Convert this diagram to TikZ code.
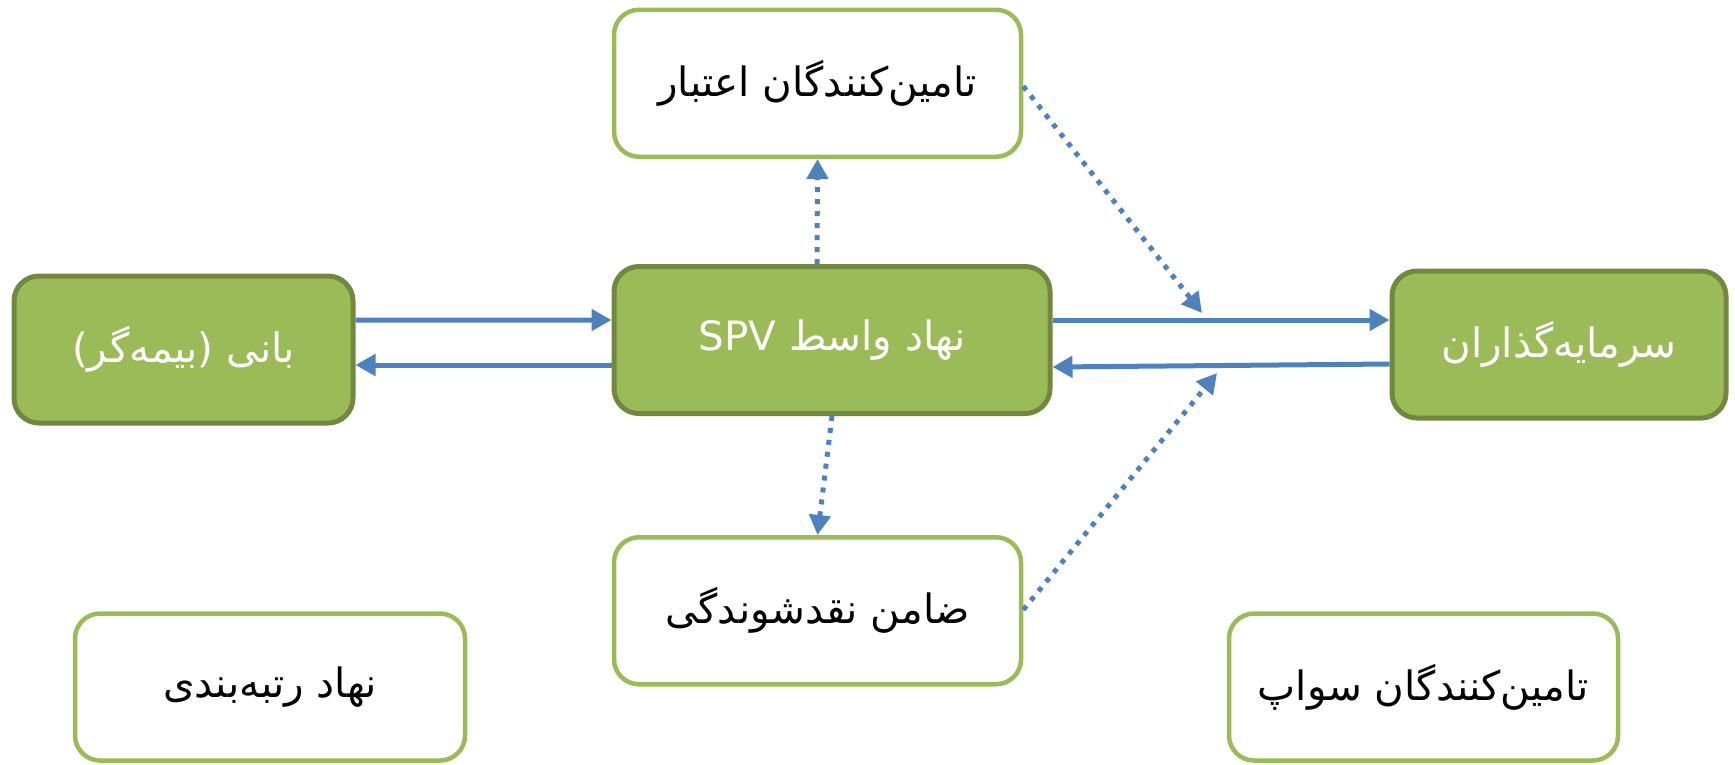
\documentclass[tikz,border=0pt]{standalone}
\usepackage{fontspec}
\usetikzlibrary{arrows.meta, positioning}
\newfontfamily\farsi[Script=Arabic]{DejaVu Sans}
\TeXXeTstate=1
\definecolor{leaf}{HTML}{9BBB59}
\definecolor{leafdark}{HTML}{71893F}
\definecolor{steel}{HTML}{4F81BD}
\tikzstyle{keyparty} = [
  rectangle,
  rounded corners=0.25cm,
  minimum height=1.47cm,
  text centered,
  inner sep=0,
  line width=0.05cm,
  draw=leafdark,
  fill=leaf,
  text=white,
  font=\farsi\fontsize{11.5}{14}\selectfont
]
\tikzstyle{sideparty} = [
  rectangle,
  rounded corners=0.25cm,
  minimum width=4.07cm,
  minimum height=1.47cm,
  text centered,
  inner sep=0,
  line width=0.045cm,
  draw=leaf,
  fill=white,
  text=black,
  font=\farsi\fontsize{11.5}{14}\selectfont
]
\tikzstyle{flow} = [
  draw=steel,
  line width=0.05cm,
  -{Triangle[length=0.2cm, width=0.21cm]}
]
\tikzstyle{support} = [
  flow,
  dash pattern=on 0.05cm off 0.07cm
]

\begin{document}
\begin{tikzpicture}
      \useasboundingbox (0,0) rectangle (17.35,-7.64);

      \node [keyparty, minimum width=4.36cm] (spv) at (8.32,-3.40) {\beginR نهاد واسط \beginL SPV\endL{}\endR};
      \node [sideparty, above=1.05cm of spv, xshift=-0.145cm] (credit) {\beginR تامین‌کنندگان اعتبار\endR};
      \node [sideparty, below=1.19cm of spv, xshift=-0.145cm] (liquidity) {\beginR ضامن نقدشوندگی\endR};
      \node [keyparty, minimum width=3.39cm, left=2.56cm of spv, yshift=-0.095cm] (founder) {\beginR بانی (بیمه‌گر)\endR};
      \node [keyparty, minimum width=3.34cm, right=3.37cm of spv, yshift=-0.045cm] (investors) {\beginR سرمایه‌گذاران\endR};
      \node [sideparty, minimum width=3.90cm] (rating) at (2.70,-6.87) {\beginR نهاد رتبه‌بندی\endR};
      \node [sideparty, minimum width=3.89cm] (swap) at (14.235,-6.87) {\beginR تامین‌کنندگان سواپ\endR};

      \coordinate (credit tip) at (12.02,-3.13);
      \coordinate (liquidity tip) at (12.17,-3.73);

      \draw [flow] ([yshift=0.295cm]founder.east) -- ([yshift=0.2cm]spv.west);
      \draw [flow] ([yshift=-0.25cm]spv.west) -- ([yshift=-0.155cm]founder.east);
      \draw [flow] ([yshift=0.2cm]spv.east) -- ([yshift=0.245cm]investors.west);
      \draw [flow] ([yshift=-0.195cm]investors.west) -- ([yshift=-0.27cm]spv.east);
      \draw [support] ([xshift=-0.15cm]spv.north) -- (credit.south);
      \draw [support] (spv.south) -- (liquidity.north);
      \draw [support] ([yshift=-0.03cm]credit.east) -- (credit tip);
      \draw [support] ([yshift=0.01cm]liquidity.east) -- (liquidity tip);

    \end{tikzpicture}
\end{document}
